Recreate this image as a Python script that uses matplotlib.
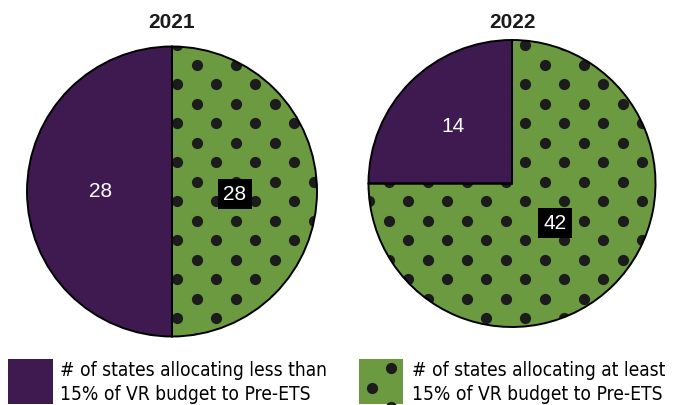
import numpy as np
import matplotlib.pyplot as plt
from matplotlib.patches import Rectangle

# Pre-ETS allocation, number of states per year
years = ['2021', '2022']
less_than_15 = [28, 14]
at_least_15 = [28, 42]
legend_labels = ['# of states allocating less than\n15% of VR budget to Pre-ETS',
                 '# of states allocating at least\n15% of VR budget to Pre-ETS']

purple = '#3e1a51'
green = '#6c9a41'
dot_color = '#1c1c1c'

W, H = 673, 406
fig = plt.figure(figsize=(W / 100, H / 100), dpi=100)
ax = fig.add_axes([0, 0, 1, 1])


def dots(ox, oy, x0, x1, y0, y1):
    # staggered polka dot lattice (pixel coords, y down)
    xs, ys = [], []
    for k in range(-30, 30):
        y = oy + k * 19.5
        if y < y0 - 10 or y > y1 + 10:
            continue
        shift = 19.5 if k % 2 else 0
        for j in range(-30, 30):
            x = ox + shift + j * 39
            if x0 - 10 <= x <= x1 + 10:
                xs.append(x)
                ys.append(H - y)
    return xs, ys


# pie layout: center x, center y (px from top), radius, dot lattice origin,
# label positions (px)
layout = [
    dict(cx=172, cy=192.5, r=145, dot=(177, 85), lab1=(101, 192), lab2=(235, 195)),
    dict(cx=512, cy=184.5, r=143.5, dot=(525, 85), lab1=(453, 127), lab2=(555, 224)),
]

for i, year in enumerate(years):
    L = layout[i]
    vals = [less_than_15[i], at_least_15[i]]
    center = (L['cx'], H - L['cy'])
    wedges, _ = ax.pie(vals, colors=[purple, green], startangle=90, counterclock=True,
                       center=center, radius=L['r'], frame=True,
                       wedgeprops=dict(linewidth=0))
    xs, ys = dots(L['dot'][0], L['dot'][1], L['cx'] - L['r'], L['cx'] + L['r'],
                  L['cy'] - L['r'], L['cy'] + L['r'])
    sc = ax.scatter(xs, ys, s=65, color=dot_color, linewidths=0, zorder=2)
    sc.set_clip_path(wedges[1])
    ax.pie(vals, startangle=90, counterclock=True, center=center, radius=L['r'],
           frame=True, wedgeprops=dict(fill=False, edgecolor='black', linewidth=1.4,
                                       zorder=3))

    ax.text(L['cx'], H - 23, year, ha='center', va='center', fontsize=15,
            fontweight='bold', family='Liberation Sans', color='#1a1a1a', zorder=5)
    ax.text(L['lab1'][0], H - L['lab1'][1], str(vals[0]), ha='center', va='center',
            fontsize=15, family='Liberation Sans', color='white', zorder=5)
    ax.text(L['lab2'][0], H - L['lab2'][1], str(vals[1]), ha='center', va='center',
            fontsize=15, family='Liberation Sans', color='white', zorder=5,
            bbox=dict(facecolor='black', edgecolor='none', boxstyle='square,pad=0.28'))

# legend
r1 = Rectangle((8, H - 405), 45, 45, facecolor=purple, edgecolor='none')
ax.add_patch(r1)
r2 = Rectangle((359, H - 405), 44, 45, facecolor=green, edgecolor='none')
ax.add_patch(r2)
xs, ys = dots(391, 369, 359, 403, 360, 405)
sc = ax.scatter(xs, ys, s=65, color=dot_color, linewidths=0, zorder=2)
sc.set_clip_path(r2)

ax.text(60, H - 382.5, legend_labels[0], ha='left', va='center', fontsize=13.8,
        family='DejaVu Sans', fontstretch='condensed', color='black',
        linespacing=1.35)
ax.text(412, H - 382.5, legend_labels[1], ha='left', va='center', fontsize=13.8,
        family='DejaVu Sans', fontstretch='condensed', color='black',
        linespacing=1.35)

ax.set_xlim(0, W)
ax.set_ylim(0, H)
ax.set_aspect('equal')
ax.axis('off')

fig.savefig('out.png', dpi=100)
